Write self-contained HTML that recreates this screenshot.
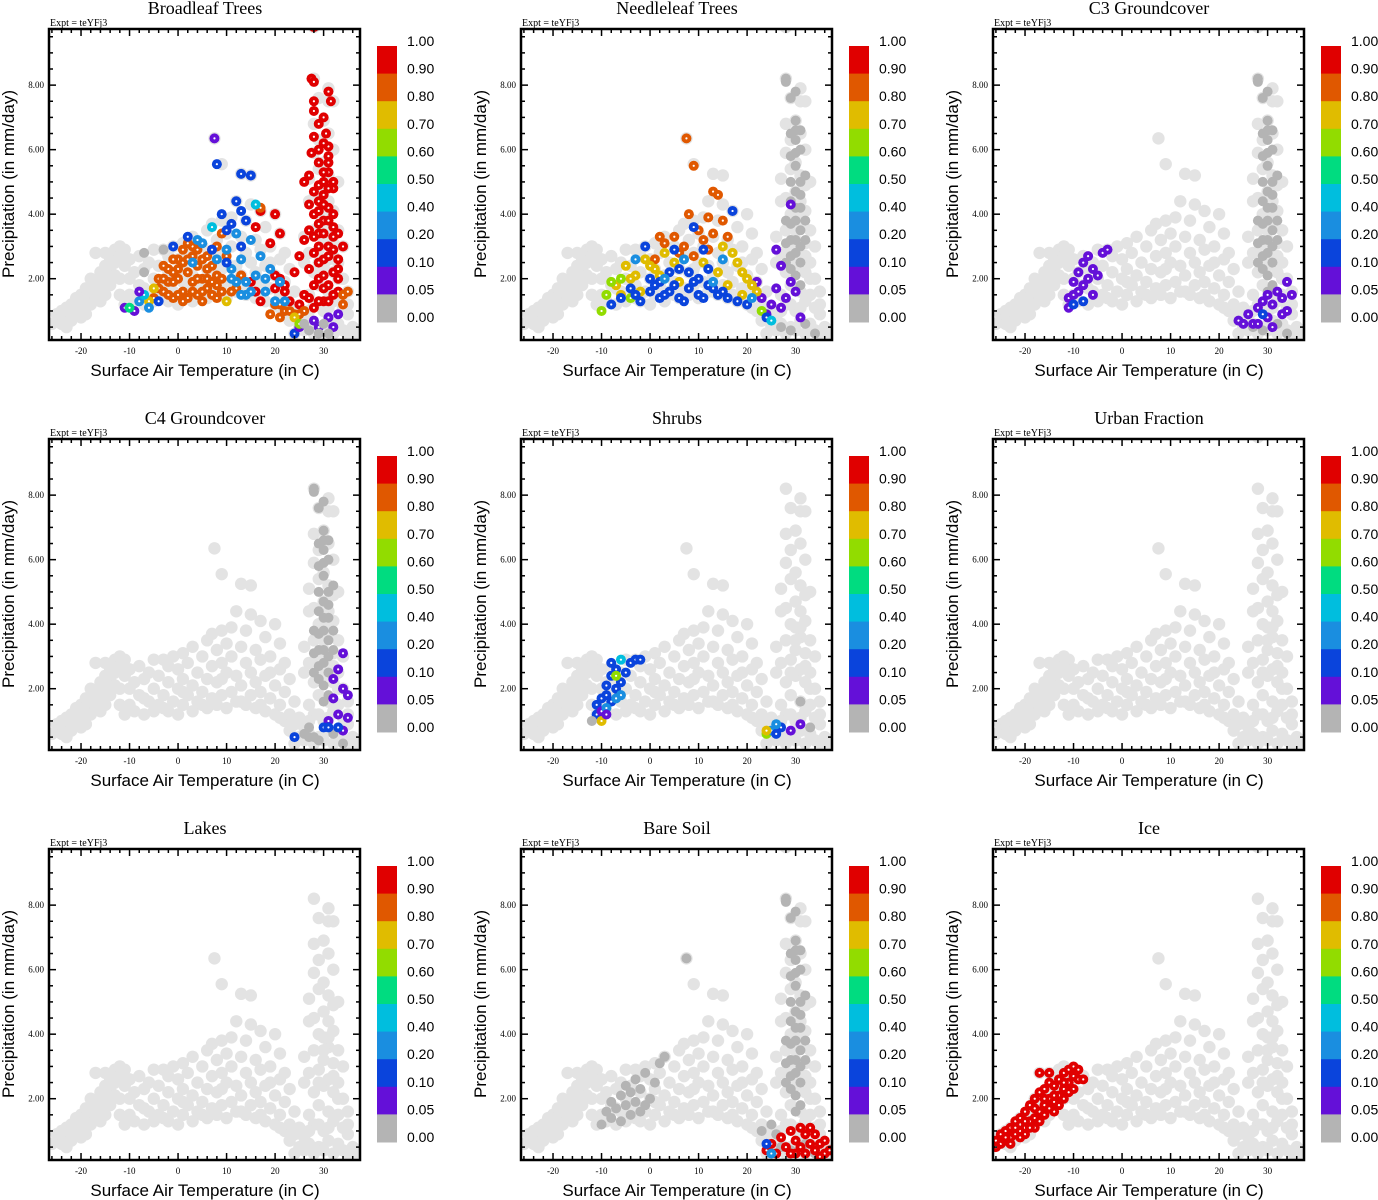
<!DOCTYPE html>
<html><head><meta charset="utf-8">
<style>
body{margin:0;background:#fff;}
svg{display:block;}
.serif{font-family:"Liberation Serif",serif;}
.sans{font-family:"Liberation Sans",sans-serif;}
</style></head>
<body>
<svg id="chart" width="1378" height="1200" viewBox="0 0 1378 1200" xmlns="http://www.w3.org/2000/svg"></svg>
<script>
const titles = ["Broadleaf Trees","Needleleaf Trees","C3 Groundcover","C4 Groundcover","Shrubs","Urban Fraction","Lakes","Bare Soil","Ice"];
const cbLabels = ["1.00","0.90","0.80","0.70","0.60","0.50","0.40","0.20","0.10","0.05","0.00"];
const cbColors = ["#e00000","#e05800","#e0bc00","#92dc00","#00dc80","#00bede","#1a8ee0","#0a44dc","#6410d8","#b4b4b4"];
const binEdges = [0.9,0.8,0.7,0.6,0.5,0.4,0.2,0.1,0.05,0];
const xTicks = [-20,-10,0,10,20,30];
const yTicks = [2,4,6,8];
const yTickLabels = ["2.00","4.00","6.00","8.00"];

const baseCloud = [[-26,0.6],[-25,0.7],[-25,0.9],[-24,0.6],[-24,1.0],[-23,0.8],[-23,1.1],[-22,0.7],[-22,1.2],[-22,0.9],[-21,1.0],[-21,1.4],[-20,1.1],[-20,1.5],[-20,0.8],[-19,1.3],[-19,1.7],[-18,1.2],[-18,1.6],[-18,2.0],[-17,1.5],[-17,1.9],[-17,2.8],[-16,1.7],[-16,2.2],[-16,1.3],[-15,2.0],[-15,2.4],[-15,2.8],[-14,1.8],[-14,2.3],[-14,2.6],[-13,2.1],[-13,2.5],[-13,2.9],[-12,2.0],[-12,2.7],[-12,3.0],[-11,2.4],[-11,2.9],[-11,1.2],[-10,2.6],[-10,1.5],[-9,2.2],[-9,1.3],[-8,2.7],[-8,1.8],
[-7,1.2],[-7,2.3],[-6,1.6],[-6,2.5],[-5,1.3],[-5,2.0],[-5,2.9],[-4,1.5],[-4,2.4],[-3,1.8],[-3,2.9],[-2,1.3],[-2,2.2],[-2,2.7],[-1,1.6],[-1,3.0],[0,1.2],[0,2.0],[0,2.6],[1,1.5],[1,2.3],[1,3.1],[2,1.8],[2,2.8],[3,1.3],[3,2.1],[3,3.3],[4,1.6],[4,2.5],[5,1.9],[5,3.0],[6,1.4],[6,2.3],[6,3.5],[7,1.7],[7,2.7],[7,3.7],[7.5,6.35],[8,1.5],[8,2.2],[8,3.2],[9,5.55],[9,1.8],[9,2.8],[9,3.8],[10,1.4],[10,2.5],[10,3.4],[11,1.9],[11,3.0],[11,3.9],[12,1.6],[12,2.4],[12,4.4],[13,5.25],[13,2.1],[13,3.3],[14,1.5],[14,2.8],[14,3.8],[15,5.2],[15,1.8],[15,2.5],[15,4.3],[16,1.4],[16,2.2],[16,3.2],[17,1.9],[17,2.9],[17,4.1],[18,1.3],[18,2.4],[18,3.6],[19,1.7],[19,3.0],[20,1.2],[20,2.1],[20,4.0],[21,1.5],[21,2.6],[21,3.4],[22,1.0],[22,1.9],[22,2.8],[23,1.2],[23,2.3],[24,0.9],[24,1.6],[24,0.3],
[25,0.5],[25,1.1],[26,0.4],[26,0.8],[26,2.5],[26,3.3],[27,0.6],[27,1.5],[27,2.8],[27,4.4],[27,5.1],[28,9.8],[28,8.2],[28,0.3],[28,1.2],[28,2.2],[28,3.5],[28,5.9],[28,6.8],[29,7.6],[29,0.5],[29,1.8],[29,2.9],[29,4.0],[29,5.4],[29,6.3],[30,6.9],[30,0.4],[30,1.0],[30,2.4],[30,3.2],[30,3.9],[30,4.7],[30,5.6],[31,7.9],[31,7.5],[31,6.5],[31,0.7],[31,1.6],[31,2.6],[31,3.6],[31,4.4],[31,5.2],[32,7.5],[32,6.0],[32,0.3],[32,1.3],[32,2.2],[32,3.1],[32,4.1],[32,4.9],[33,5.0],[33,0.6],[33,1.5],[33,2.5],[33,3.5],[34,0.4],[34,1.1],[34,2.0],[34,3.0],[35,0.3],[35,0.9],[35,1.6],[36,0.5],[36,0.2],[37,0.4],
[-23,0.5],[-19,0.9],[-15,1.5],[-12,1.5],[-10,2.0],[-7,1.7],[-3,1.4],[1,1.9],[5,1.5],[9,2.3],[13,1.6],[17,1.5],[21,1.1],[19,2.5],[23,0.7],[27,1.0],[29,1.2],[31,1.1],[33,2.0],[35,1.2],[30,3.5],[29,2.5],[32,2.7],[28,4.5],[31,3.9]];

const spikeGray = [[28,8.2,0],[28,8.1,0],[29,7.6,0],[30,7.8,0],[30,6.9,0],[30,6.6,0],[30,6.3,0],[29,5.8,0],[30,5.5,0],[31,5.0,0],[30,4.7,0],[29,4.4,0],[31,4.2,0],[30,3.8,0],[31,3.5,0],[29,3.2,0],[30,2.8,0],[31,2.5,0],[30,2.1,0],[28,3.8,0],[28,2.5,0],[31,6.0,0],[32,5.2,0],[32,3.8,0],[29,2.3,0],[31,3.0,0],[30,4.2,0],[29,5.0,0],[31,1.8,0],[27,0.5,0],[29,0.4,0],[32,0.6,0],[34,0.3,0],[29,6.5,0],[31,6.6,0],[30,5.9,0],[29,3.7,0],[31,4.6,0],[30,3.2,0],[32,3.2,0],[28,3.1,0],[29,2.7,0],[30,1.6,0]];

const broadleaf = [[28,9.8,.95],[27.5,8.2,.95],[28,8.1,.95],[31,7.8,.95],[31.5,7.5,.95],[28,7.5,.95],[28,7.2,.95],[29,6.8,.95],[30.5,6.5,.95],[31,6.1,.95],[27.5,5.9,.95],[29,5.6,.95],[31,5.3,.95],[26,5.0,.95],[27,5.2,.95],[29,4.9,.95],[32,4.8,.95],[30,4.6,.95],[27,4.3,.95],[31,4.2,.95],[28,4.0,.95],[30,3.8,.95],[32,3.6,.95],[29,3.4,.95],[33,3.4,.95],[26,3.2,.95],[31,3.0,.95],[34,3.0,.95],[28,2.8,.95],[30,2.6,.95],[25,2.7,.95],[33,2.6,.95],[27,2.3,.95],[32,2.2,.95],[24,2.2,.95],[29,2.0,.95],[31,1.8,.95],[21,2.0,.95],[22,1.6,.95],[26,1.5,.95],[30,1.3,.95],[33,1.6,.95],[23,1.3,.95],[28,1.1,.95],[20,4.0,.95],[19,3.1,.95],[21,3.4,.95],[16,3.6,.95],[17,4.1,.95],[17,1.3,.95],[13,2.1,.95],[15,1.9,.95],[16,1.6,.95],[20,1.7,.95],[29,4.4,.95],[31,5.8,.95],[30,2.1,.95],[33,2.0,.95],[32,4.0,.95],[30,5.0,.95],[29,3.0,.95],[32,2.9,.95],
[30,6.2,.95],[29,6.0,.95],[31,5.6,.95],[30,5.3,.95],[32,5.0,.95],[28,4.7,.95],[30,4.3,.95],[29,4.1,.95],[31,3.8,.95],[29,3.7,.95],[30,3.4,.95],[32,3.3,.95],[28,3.3,.95],[31,2.7,.95],[29,2.5,.95],[33,2.3,.95],[28,1.8,.95],[30,1.7,.95],[32,1.5,.95],[27,1.4,.95],[29,1.3,.95],[31,1.3,.95],[25,1.2,.95],[22,1.8,.95],[20,2.1,.95],[27,3.5,.95],[30,7.0,.95],[31,4.8,.95],[28,6.4,.95],
[-4,2.0,.85],[-3,1.6,.85],[-2,2.3,.85],[-1,1.4,.85],[0,2.0,.85],[0,2.6,.85],[1,1.6,.85],[1,2.9,.85],[2,2.2,.85],[2,1.4,.85],[3,3.0,.85],[3,1.9,.85],[4,2.4,.85],[4,1.5,.85],[5,2.0,.85],[5,2.6,.85],[6,1.7,.85],[6,2.3,.85],[7,1.5,.85],[7,2.9,.85],[8,2.1,.85],[8,1.8,.85],[9,3.4,.85],[-5,1.4,.85],[-2,1.9,.85],[-1,2.6,.85],[0,1.5,.85],[3,2.7,.85],[6,2.0,.85],[9,1.6,.85],[12,1.7,.85],[13,2.1,.85],[10,2.7,.85],[11,1.6,.85],[20,1.2,.85],[22,1.0,.85],[24,0.9,.85],[26,1.0,.85],[34,1.5,.85],[35,1.6,.85],[34,1.2,.85],[19,0.9,.85],[21,0.8,.85],[17,4.2,.85],[8,3.0,.85],[1,2.5,.85],[-3,2.4,.85],[2,3.1,.85],[-1,1.9,.85],[5,1.6,.85],[7,2.4,.85],
[-4,1.7,.85],[-2,1.5,.85],[0,2.3,.85],[1,1.3,.85],[2,2.6,.85],[4,2.0,.85],[5,1.3,.85],[6,2.7,.85],[8,1.4,.85],[3,1.6,.85],[-3,2.0,.85],[-1,2.2,.85],[7,1.9,.85],[9,2.0,.85],[4,2.9,.85],[23,1.0,.85],[25,0.9,.85],[21,1.2,.85],
[-5,1.7,.75],[10,1.3,.75],[-6,1.3,.75],[24,0.8,.75],
[-8,1.3,.3],[-7,1.5,.45],[-6,1.1,.3],[7,3.6,.45],[8,2.6,.3],[10,2.9,.3],[11,2.3,.3],[12,3.4,.3],[13,2.6,.3],[14,1.9,.3],[15,3.2,.3],[16,4.3,.45],[16,2.1,.3],[17,2.7,.3],[18,1.6,.3],[19,2.3,.3],[14,1.5,.3],[12,1.9,.3],[5,3.1,.3],[3,2.5,.3],[20,1.3,.3],[21,1.9,.3],[22,1.3,.3],[4,3.2,.3],[15,1.6,.3],[18,2.0,.3],[11,2.0,.3],[13,1.5,.3],
[8,5.55,.15],[13,5.25,.15],[15,5.2,.15],[12,4.4,.15],[9,4.0,.15],[13,4.1,.15],[11,3.7,.15],[14,3.8,.15],[10,3.5,.15],[2,3.3,.15],[-1,3.0,.15],[7,2.9,.15],[10,2.5,.15],[13,3.0,.15],[24,0.3,.15],[-4,1.3,.15],
[7.5,6.35,.07],[-8,1.6,.07],[-11,1.1,.07],[-9,1.0,.07],[28,0.7,.07],[31,0.8,.07],[32,0.5,.07],[33,0.9,.07],[25,0.5,.07],[29,0.5,.07],
[-10,1.1,.55],[25,0.6,.65],
[-7,2.8,0],[-3,2.9,0],[-7,2.2,0],[27,0.4,0],[29,0.3,0],[30,0.6,0],[31,0.3,0],[26,0.6,0]];

const needleleaf = [[29,4.3,.07],[26,2.9,.07],[27,2.4,.07],[26,1.7,.07],[28,1.4,.07],[22,1.9,.07],[23,1.4,.07],[25,1.2,.07],[24,0.9,.07],[31,0.8,.07],[30,1.6,.07],[27,1.1,.07],[29,1.9,.07],
[7.5,6.35,.85],[9,5.5,.85],[13,4.7,.85],[14,4.6,.85],[8,4.0,.85],[12,3.9,.85],[15,3.8,.85],[10,3.5,.85],[11,3.2,.85],[13,3.4,.85],[5,3.3,.85],[3,3.1,.85],[7,3.0,.85],[16,3.3,.85],[1,2.6,.85],[9,2.7,.85],[2,3.3,.85],[6,2.8,.85],[12,2.9,.85],
[-7,1.8,.75],[-5,2.4,.75],[-3,2.1,.75],[-1,2.6,.75],[1,2.3,.75],[3,2.8,.75],[5,2.5,.75],[14,2.2,.75],[16,1.8,.75],[18,2.5,.75],[19,1.5,.75],[20,2.0,.75],[22,1.6,.75],[17,2.8,.75],[-2,1.6,.75],[11,2.5,.75],[15,3.0,.75],[6,1.9,.75],[-6,1.5,.75],[-4,2.0,.75],[0,2.4,.75],[2,2.1,.75],[19,2.2,.75],[21,1.8,.75],
[-9,1.5,.65],[-10,1.0,.65],[-6,2.0,.65],[-4,1.4,.65],[23,1.0,.65],[-8,1.9,.65],
[-8,1.2,.15],[-6,1.4,.15],[-4,1.7,.15],[-2,1.3,.15],[0,1.6,.15],[0,2.0,.15],[2,1.4,.15],[2,1.9,.15],[4,1.6,.15],[4,2.2,.15],[6,1.4,.15],[6,2.3,.15],[8,1.7,.15],[8,2.2,.15],[10,1.5,.15],[10,2.0,.15],[12,1.8,.15],[12,2.3,.15],[14,1.5,.15],[16,1.4,.15],[18,1.3,.15],[20,1.2,.15],[11,2.9,.15],[9,3.6,.15],[5,2.9,.15],[17,4.1,.15],[-1,3.0,.15],[24,0.8,.15],[-3,1.5,.15],[1,1.8,.15],[3,1.5,.15],[5,1.8,.15],[7,1.3,.15],[9,1.9,.15],[11,1.4,.15],[13,1.7,.15],[15,1.6,.15],
[7,2.6,.3],[3,2.0,.3],[13,1.9,.3],[21,1.4,.3],[25,0.7,.45],[-3,2.6,.3],[15,2.6,.3]];

const c3 = [[-11,1.1,.07],[-11,1.4,.07],[-10,1.5,.07],[-10,1.9,.07],[-9,1.6,.07],[-9,2.2,.07],[-8,1.8,.07],[-8,2.5,.07],[-7,2.0,.07],[-7,2.7,.07],[-6,2.3,.07],[-6,1.5,.07],[-5,2.1,.07],[-4,2.8,.07],[-3,2.9,.07],[-10,1.2,.15],[-8,1.3,.15],
[24,0.7,.07],[25,0.6,.07],[26,0.9,.07],[27,0.6,.07],[28,1.1,.07],[29,1.3,.07],[30,0.8,.07],[30,1.5,.07],[31,1.2,.07],[32,1.6,.07],[33,1.4,.07],[34,1.9,.07],[35,1.5,.07],[33,0.9,.07],[31,0.5,.07],[28,0.6,.07],[29,0.9,.15],[34,1.0,.07]];

const c4 = [[34,3.1,.07],[33,2.6,.07],[34,2.0,.07],[32,1.7,.07],[35,1.8,.07],[33,1.2,.07],[35,1.1,.07],[34,0.7,.07],[31,1.0,.07],[32,2.3,.07],[24,0.5,.15],[30,0.8,.15],[31,0.8,.15],[33,0.8,.15],[26,0.6,0],[27,0.8,0],[28,0.5,0]];

const shrubs = [[-11,1.2,.15],[-11,1.5,.15],[-10,1.7,.15],[-10,1.3,.07],[-9,1.8,.15],[-9,2.1,.15],[-8,1.6,.15],[-8,2.4,.15],[-7,2.0,.15],[-7,2.6,.15],[-6,2.2,.15],[-6,1.8,.3],[-5,2.5,.15],[-4,2.8,.15],[-3,2.9,.15],[-2,2.9,.15],[-8,2.8,.15],[-7,1.7,.3],[-10,1.0,.75],[-9,1.4,.3],[-6,2.9,.45],[-7,2.4,.65],[-9,1.2,.07],[24,0.6,.65],[25,0.7,.3],[26,0.6,.15],[27,0.8,.15],[29,0.7,.07],[31,0.9,.07],[26,0.9,.3],[24,0.7,.75],[31,1.6,0],[33,0.8,0],[-12,1.0,0]];

const bareSoil = [[-10,1.2,0],[-9,1.6,0],[-8,1.4,0],[-8,1.9,0],[-7,1.7,0],[-6,2.1,0],[-6,1.3,0],[-5,1.8,0],[-5,2.4,0],[-4,1.5,0],[-4,2.2,0],[-3,1.9,0],[-3,2.6,0],[-2,1.6,0],[-2,2.3,0],[-1,1.8,0],[-1,2.8,0],[0,2.0,0],[1,2.5,0],[2,3.1,0],[3,3.3,0],[7.5,6.35,0],[23,1.0,0],[25,1.2,0],[26,0.9,0],
[24,0.4,.95],[25,0.6,.95],[26,0.3,.95],[27,0.8,.95],[28,0.5,.95],[29,1.0,.95],[30,0.3,.95],[30,0.7,.95],[31,0.5,.95],[32,0.9,.95],[32,0.3,.95],[33,0.6,.95],[34,0.4,.95],[34,0.9,.95],[35,0.6,.95],[36,0.3,.95],[36,0.7,.95],[37,0.4,.95],[29,0.3,.95],[31,1.1,.95],[33,1.1,.95],[35,0.2,.95],[24,0.6,.15],[25,0.3,.3]];

const ice = [[-27,0.6,.95],[-26,0.7,.95],[-25,0.6,.95],[-25,0.9,.95],[-24,0.7,.95],[-24,1.0,.95],[-23,0.8,.95],[-23,1.1,.95],[-22,0.9,.95],[-22,1.3,.95],[-21,1.0,.95],[-21,1.4,.95],[-20,1.1,.95],[-20,1.6,.95],[-19,1.3,.95],[-19,1.8,.95],[-18,1.4,.95],[-18,2.0,.95],[-17,1.6,.95],[-17,2.2,.95],[-17,2.8,.95],[-16,1.8,.95],[-16,2.3,.95],[-15,2.0,.95],[-15,2.5,.95],[-15,2.8,.95],[-14,1.9,.95],[-14,2.4,.95],[-13,2.1,.95],[-13,2.6,.95],[-12,2.3,.95],[-12,2.8,.95],[-11,2.5,.95],[-11,2.9,.95],[-10,2.7,.95],[-10,3.0,.95],[-9,2.6,.95],[-9,2.9,.95],[-8,2.6,.95],[-20,0.9,.95],[-18,1.1,.95],[-16,1.5,.95],[-14,1.6,.95],[-12,2.0,.95],[-10,2.3,.95],[-26,0.5,.95],[-24,0.8,.95],[-22,1.1,.95],[-20,1.3,.95],[-18,1.7,.95],[-16,2.0,.95],[-14,2.1,.95],[-12,2.5,.95],[-11,2.2,.95],[-13,1.8,.95],[-15,1.7,.95],[-17,1.3,.95],[-19,1.1,.95],[-21,0.8,.95],[-23,0.6,.95]];

const panelData = [broadleaf, spikeGray.concat(needleleaf), spikeGray.concat(c3), spikeGray.concat(c4), shrubs, [], [], spikeGray.concat(bareSoil), ice];
const panelNames = ["broadleaf","needleleaf","c3-groundcover","c4-groundcover","shrubs","urban","lakes","bare-soil","ice"];

const NS = "http://www.w3.org/2000/svg";
const svg = document.getElementById("chart");
const W = 311, H = 311, XMIN = -26.6, XMAX = 37.5, YMIN = 0.1, YMAX = 9.74;
function mk(tag, attrs, parent){ const e=document.createElementNS(NS,tag); for(const k in attrs) e.setAttribute(k,attrs[k]); parent.appendChild(e); return e; }
function colorFor(v){ for(let i=0;i<binEdges.length;i++){ if(v>=binEdges[i]) return cbColors[i]; } return cbColors[9]; }

panelData.forEach((pts, idx) => {
  const col = idx % 3, row = Math.floor(idx / 3);
  const x0 = 49 + 472*col, y0 = 29 + 410*row;
  const X = t => x0 + (t - XMIN) / (XMAX - XMIN) * W;
  const Y = p => y0 + H - (p - YMIN) / (YMAX - YMIN) * H;
  const g = mk("g", {}, svg);
  
  

  const title = mk("text", {x: x0+156, y: y0-15, "text-anchor":"middle", "font-size":18, class:"serif"}, g);
  title.textContent = titles[idx];
  
  
  const ex = mk("text", {x: x0+1, y: y0-3, "font-size":10, class:"serif"}, g);
  ex.textContent = "Expt = teYFj3";
  
  

  const clip = mk("clipPath", {id:"clip"+idx}, g);
  mk("rect", {x:x0, y:y0, width:W, height:H}, clip);
  const pg = mk("g", {"clip-path":"url(#clip"+idx+")"}, g);
  
  
  baseCloud.forEach(d => {
    const c = mk("circle", {cx:X(d[0]), cy:Y(d[1]), r:6.2, fill:"#e3e3e3"}, pg);
    
    
  });
  pts.forEach(d => {
    const col2 = colorFor(d[2]);
    const c = mk("circle", {cx:X(d[0]), cy:Y(d[1]), r:5, fill:col2}, pg);
    
    
    if (d[2] >= 0.05) mk("circle", {cx:X(d[0]), cy:Y(d[1]), r:1.1, fill:"#fff"}, pg);
  });

  for (let t=-26; t<=37; t+=2){
    const major = (t % 10 === 0);
    const L = major ? 7 : 4;
    mk("line", {x1:X(t), x2:X(t), y1:y0+H, y2:y0+H-L, stroke:"#000","stroke-width":1.5}, g);
    mk("line", {x1:X(t), x2:X(t), y1:y0, y2:y0+L, stroke:"#000","stroke-width":1.5}, g);
  }
  for (let p=0.5; p<=9.7; p+=0.5){
    const major = Math.abs(p - Math.round(p/2)*2) < 1e-6;
    const L = major ? 7 : 4;
    mk("line", {x1:x0, x2:x0+L, y1:Y(p), y2:Y(p), stroke:"#000","stroke-width":1.5}, g);
    mk("line", {x1:x0+W, x2:x0+W-L, y1:Y(p), y2:Y(p), stroke:"#000","stroke-width":1.5}, g);
  }
  const frame = mk("rect", {x:x0, y:y0, width:W, height:H, fill:"none", stroke:"#000", "stroke-width":2.5}, g);
  
  

  xTicks.forEach(t => {
    const tx = mk("text", {x:X(t), y:y0+H+14, "text-anchor":"middle", "font-size":9, class:"serif"}, g);
    tx.textContent = String(t);
    
    
  });
  yTicks.forEach((p,i) => {
    const tx = mk("text", {x:x0-5, y:Y(p)+3, "text-anchor":"end", "font-size":9, class:"serif"}, g);
    tx.textContent = yTickLabels[i];
    
    
  });
  const xl = mk("text", {x:x0+156, y:y0+347, "text-anchor":"middle", "font-size":17, class:"sans"}, g);
  xl.textContent = "Surface Air Temperature (in C)";
  
  
  const yl = mk("text", {x:0, y:0, "text-anchor":"middle", "font-size":17, class:"sans", transform:`translate(${x0-35},${y0+155}) rotate(-90)`}, g);
  yl.textContent = "Precipitation (in mm/day)";
  
  

  const cbx = x0+328, cby = y0+17, ch = 27.6;
  cbColors.forEach((c,i) => {
    const r = mk("rect", {x:cbx, y:cby+i*ch, width:20, height:ch+0.5, fill:c}, g);
    
    
  });
  cbLabels.forEach((s,i) => {
    const tx = mk("text", {x:cbx+30, y:cby+i*ch, "font-size":14, class:"sans"}, g);
    tx.textContent = s;
    
    
  });
});
</script>
</body></html>
